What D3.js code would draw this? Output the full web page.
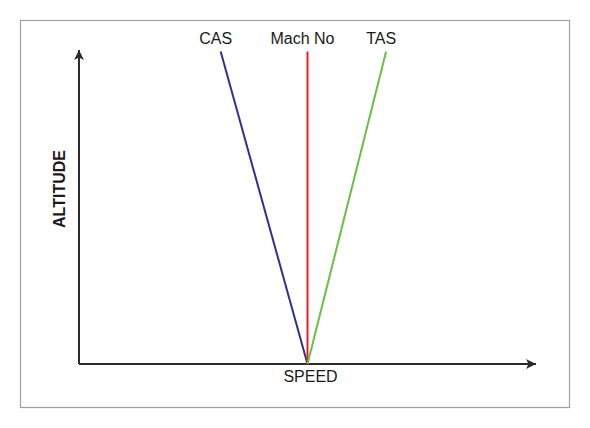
<!DOCTYPE html>
<html lang="en">
  <head>
    <meta charset="utf-8">
    <script src="https://d3js.org/d3.v7.min.js"></script>
    <style type="text/css">
body {
  margin: 0;
  background: #fff;
  font-family: "Liberation Sans", Arial, Helvetica, sans-serif;
}
    </style>
  </head>
  <body>
    <div id="chart"></div>
    <script type="text/javascript">
const width = 590;
const height = 428;

// speed lines: name, speed at the ground, speed at the top of the chart
const names = ["CAS", "Mach No", "TAS"];
const groundSpeed = [50, 50, 50];
const topSpeed = [31, 50, 67.2];
const colors = ["#2e3192", "#ed1c24", "#6abf45"];
const altitudes = [0, 99.5];

const x = d3.scaleLinear().domain([0, 100]).range([79, 536]);
const y = d3.scaleLinear().domain([0, 100]).range([364, 50]);

const svg = d3.select("#chart").append("svg")
  .attr("width", width)
  .attr("height", height);

svg.append("rect")
  .attr("x", 20.5).attr("y", 20.5)
  .attr("width", 549).attr("height", 387)
  .attr("fill", "#fff")
  .attr("stroke", "#a0a0a0")
  .attr("stroke-width", 1.2);

const defs = svg.append("defs");
defs.append("marker")
  .attr("id", "arrow")
  .attr("viewBox", "0 0 10 10")
  .attr("refX", 10).attr("refY", 5)
  .attr("markerWidth", 7).attr("markerHeight", 5)
  .attr("markerUnits", "strokeWidth")
  .attr("orient", "auto")
  .append("path")
    .attr("d", "M0,0 L10,5 L0,10 L2.5,5 Z")
    .attr("fill", "#2b2b2b");

// axes with arrowheads
svg.append("path")
  .attr("d", d3.line()([[x(0), y(0)], [x(0), y(100)]]))
  .attr("stroke", "#2b2b2b").attr("stroke-width", 2)
  .attr("fill", "none")
  .attr("marker-end", "url(#arrow)");

svg.append("path")
  .attr("d", d3.line()([[x(0), y(0)], [x(100), y(0)]]))
  .attr("stroke", "#2b2b2b").attr("stroke-width", 2)
  .attr("fill", "none")
  .attr("marker-end", "url(#arrow)");

const series = names.map((n, i) => ({
  name: n,
  color: colors[i],
  pts: [[groundSpeed[i], altitudes[0]], [topSpeed[i], altitudes[1]]]
}));

const line = d3.line().x(d => x(d[0])).y(d => y(d[1]));

svg.append("g")
  .selectAll("path")
  .data(series)
  .join("path")
    .attr("d", d => line(d.pts))
    .attr("stroke", d => d.color)
    .attr("stroke-width", 2)
    .attr("fill", "none");

svg.append("g")
  .selectAll("text")
  .data(series)
  .join("text")
    .attr("x", d => x(d.pts[1][0]) - 5)
    .attr("y", 44)
    .attr("text-anchor", "middle")
    .attr("font-size", 16)
    .attr("fill", "#1a1a1a")
    .text(d => d.name);

svg.append("text")
  .attr("x", x(50) + 3)
  .attr("y", 382)
  .attr("text-anchor", "middle")
  .attr("font-size", 16)
  .attr("fill", "#1a1a1a")
  .text("SPEED");

svg.append("text")
  .attr("transform", `translate(65,${189}) rotate(-90)`)
  .attr("text-anchor", "middle")
  .attr("font-size", 16)
  .attr("font-weight", "bold")
  .attr("fill", "#1a1a1a")
  .text("ALTITUDE");
    </script>
  </body>
</html>
